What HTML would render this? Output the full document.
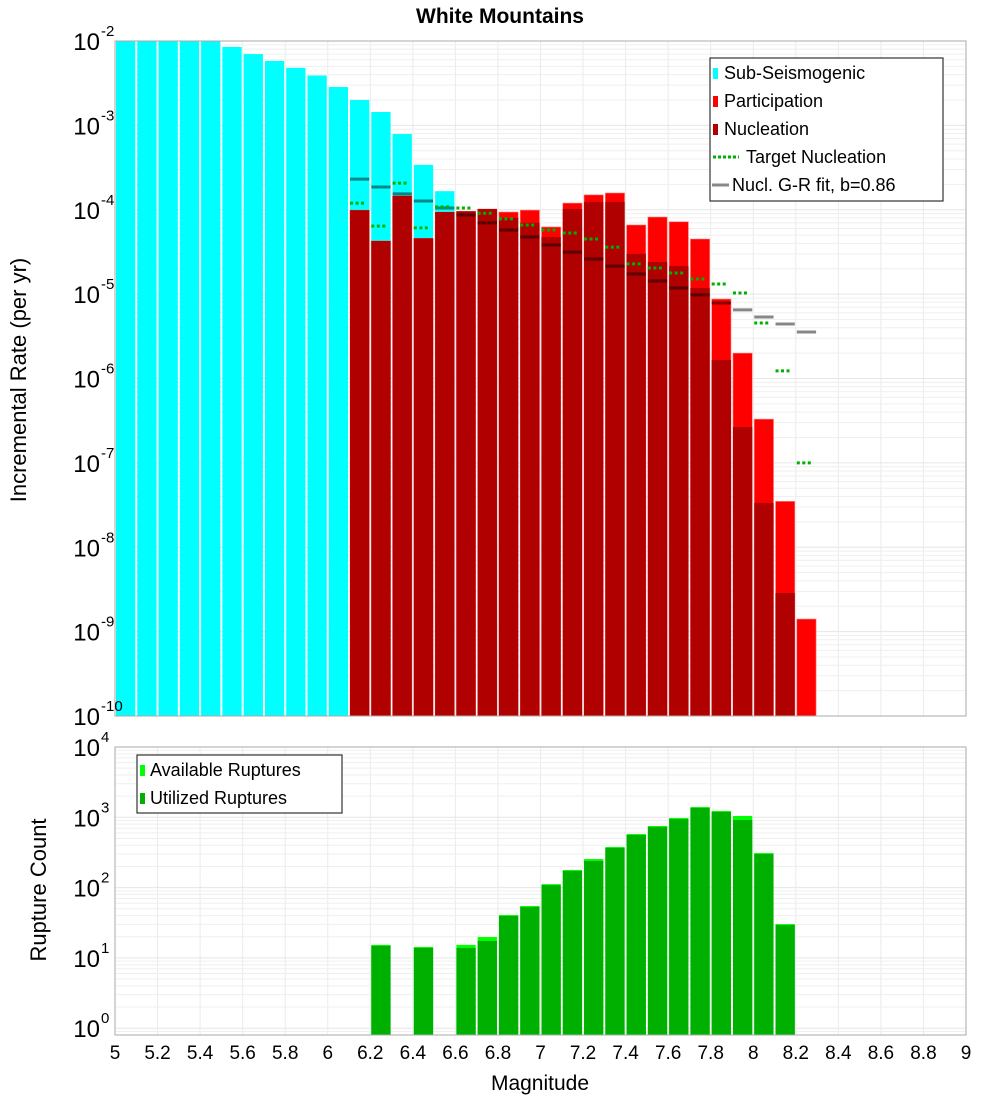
<!DOCTYPE html>
<html><head><meta charset="utf-8"><style>
body{margin:0;background:#fff;}
svg{display:block;font-family:"Liberation Sans","DejaVu Sans",sans-serif;}
</style></head><body>
<svg id="c" width="1000" height="1100" xmlns="http://www.w3.org/2000/svg"></svg>
<script>
// ---- data ----
const binStarts = [5.0,5.1,5.2,5.3,5.4,5.5,5.6,5.7,5.8,5.9,6.0,6.1,6.2,6.3,6.4,6.5,6.6,6.7,6.8,6.9,7.0,7.1,7.2,7.3,7.4,7.5,7.6,7.7,7.8,7.9,8.0,8.1,8.2];
const subSeis = [0.012,0.012,0.012,0.012,0.012,8.5e-3,7.0e-3,5.8e-3,4.8e-3,3.9e-3,2.85e-3,2.0e-3,1.44e-3,7.9e-4,3.4e-4,1.66e-4,0,0,0,0,0,0,0,0,0,0,0,0,0,0,0,0,0];
const participation = [0,0,0,0,0,0,0,0,0,0,0,9.9e-5,4.27e-5,1.46e-4,4.6e-5,9.4e-5,9.6e-5,1.02e-4,9.4e-5,9.9e-5,6.25e-5,1.2e-4,1.5e-4,1.58e-4,6.6e-5,8.2e-5,7.2e-5,4.5e-5,8.75e-6,2.0e-6,3.3e-7,3.5e-8,1.41e-9];
const nucleation = [0,0,0,0,0,0,0,0,0,0,0,9.9e-5,4.27e-5,1.46e-4,4.6e-5,9.4e-5,9.6e-5,1.02e-4,8.0e-5,7.0e-5,4.75e-5,1.02e-4,1.24e-4,1.24e-4,3.0e-5,2.4e-5,2.15e-5,1.18e-5,1.66e-6,2.66e-7,3.35e-8,2.87e-9,0];
const targetMags = [6.1,6.2,6.3,6.4,6.5,6.6,6.7,6.8,6.9,7.0,7.1,7.2,7.3,7.4,7.5,7.6,7.7,7.8,7.9,8.0,8.1,8.2];
const targetNucl = [1.2e-4,6.4e-5,2.07e-4,6.1e-5,1.08e-4,1.05e-4,9.1e-5,7.8e-5,6.6e-5,5.75e-5,5.3e-5,4.5e-5,3.6e-5,2.28e-5,2.04e-5,1.78e-5,1.51e-5,1.32e-5,1.03e-5,4.55e-6,1.23e-6,1.0e-7];
const grFit = [2.31e-4,1.86e-4,1.54e-4,1.27e-4,1.05e-4,8.7e-5,7.0e-5,5.75e-5,4.75e-5,3.82e-5,3.15e-5,2.61e-5,2.15e-5,1.73e-5,1.43e-5,1.18e-5,9.8e-6,7.85e-6,6.5e-6,5.35e-6,4.43e-6,3.56e-6];
const rupMags = [6.2,6.3,6.4,6.5,6.6,6.7,6.8,6.9,7.0,7.1,7.2,7.3,7.4,7.5,7.6,7.7,7.8,7.9,8.0,8.1];
const availRups = [15.3,0,14.3,0,15.3,19.8,40.7,54.7,112,178,255,378,578,752,977,1400,1230,1045,310,30.3];
const usedRups = [15.3,0,14.3,0,14.3,18.0,40.7,54.7,112,178,247,378,578,752,977,1400,1230,946,310,30.3];
const xTicks = [5,5.2,5.4,5.6,5.8,6,6.2,6.4,6.6,6.8,7,7.2,7.4,7.6,7.8,8,8.2,8.4,8.6,8.8,9];
const topExps = [-2,-3,-4,-5,-6,-7,-8,-9,-10];
const botExps = [4,3,2,1,0];

// ---- geometry ----
const NS="http://www.w3.org/2000/svg";
const svg=document.getElementById('c');
const X0=115,X1=966;
const T={top:41,bot:716,lmax:-2,lmin:-10};
const B={top:747,bot:1035,lmax:4,lmin:4-(1035-747)/70.3};
const xs=m=>X0+(m-5)*(X1-X0)/4;
const yT=v=>T.top+(T.lmax-Math.log10(v))*(T.bot-T.top)/(T.lmax-T.lmin);
const yB=v=>B.top+(B.lmax-Math.log10(v))*(B.bot-B.top)/(B.lmax-B.lmin);
function el(tag,attrs,parent){const e=document.createElementNS(NS,tag);for(const k in attrs)e.setAttribute(k,attrs[k]);(parent||svg).appendChild(e);return e;}

// clip paths
const defs=el('defs',{});
const cpT=el('clipPath',{id:'cT'},defs);el('rect',{x:X0,y:T.top,width:X1-X0,height:T.bot-T.top},cpT);
const cpB=el('clipPath',{id:'cB'},defs);el('rect',{x:X0,y:B.top,width:X1-X0,height:B.bot-B.top},cpB);

function grid(P,yf,name){
  const g=el('g',{'clip-path':'url(#'+(P===T?'cT':'cB')+')'});
  
  
  for(let m=5;m<=9.001;m+=0.2){el('line',{x1:xs(m),x2:xs(m),y1:P.top,y2:P.bot,stroke:'#ebebeb','stroke-width':1},g);}
  for(let e=Math.floor(P.lmin);e<=P.lmax;e++){for(let k=1;k<10;k++){const v=k*Math.pow(10,e);const y=yf(v);if(y<P.top||y>P.bot)continue;el('line',{x1:X0,x2:X1,y1:y,y2:y,stroke:k===1?'#e6e6e6':'#efefef','stroke-width':1},g);}}
}
grid(T,yT,'top-grid');grid(B,yB,'bottom-grid');

const bw=(X1-X0)/40;
// top bars
const gT=el('g',{'clip-path':'url(#cT)'});


function bars(vals,color,name,stroke){
  vals.forEach((v,i)=>{if(!v)return;const x=xs(binStarts[i]);const y=yT(v);
    const r=el('rect',{x:x+1,y:y,width:bw-2,height:T.bot-y,fill:color,stroke:stroke||'none','stroke-width':0.6},gT);
    
    });
}
bars(subSeis,'#00ffff','sub-seismogenic');
bars(participation,'#ff0000','participation','#ff8080');
bars(nucleation,'#b00000','nucleation');
grFit.forEach((v,i)=>{const x=xs(targetMags[i]);const y=yT(v);
  const l=el('line',{x1:x+1,x2:x+bw-1,y1:y,y2:y,stroke:'rgba(0,0,0,0.47)','stroke-width':3},gT);
  
  });
targetNucl.forEach((v,i)=>{const x=xs(targetMags[i]);const y=yT(v);
  const l=el('line',{x1:x+1,x2:x+16,y1:y,y2:y,stroke:'#00b000','stroke-width':3,'stroke-dasharray':'3,2.5'},gT);
  
  });

// bottom bars
const gB=el('g',{'clip-path':'url(#cB)'});


rupMags.forEach((m,i)=>{const x=xs(m);
  if(availRups[i]){const y=yB(availRups[i]);const r=el('rect',{x:x+1,y:y,width:bw-2,height:B.bot-y,fill:'#00ff00'},gB);
    
    }
  if(usedRups[i]){const y=yB(usedRups[i]);const r=el('rect',{x:x+1,y:y+1,width:bw-2,height:B.bot-y-1,fill:'#00b000'},gB);
    
    }
});

// frames
[T,B].forEach((P,i)=>{const r=el('rect',{x:X0,y:P.top,width:X1-X0,height:P.bot-P.top,fill:'none',stroke:'#aaaaaa','stroke-width':1});
  
  });

// y tick labels
function ylab(exp,y,name){const t=el('text',{x:100,y:y+9,'font-size':24,'text-anchor':'end',fill:'#000'});t.textContent='10';
  
  
  const s=el('text',{x:101,y:y-5,'font-size':15,fill:'#000'});s.textContent=String(exp);
  
  }
topExps.forEach(e=>ylab(e,yT(Math.pow(10,e)),'top-y-tick-label'));
botExps.forEach(e=>ylab(e,yB(Math.pow(10,e)),'bottom-y-tick-label'));
// x ticks
xTicks.forEach(m=>{const t=el('text',{x:xs(m),y:1059,'font-size':19,'text-anchor':'middle',fill:'#000'});t.textContent=String(m);
  
  });

// titles
let t=el('text',{x:500,y:23,'font-size':21,'font-weight':'bold','text-anchor':'middle'});t.textContent='White Mountains';

t=el('text',{x:540,y:1090,'font-size':21,'text-anchor':'middle'});t.textContent='Magnitude';

t=el('text',{x:0,y:0,'font-size':22,'text-anchor':'middle',transform:'translate(26,380) rotate(-90)'});t.textContent='Incremental Rate (per yr)';

t=el('text',{x:0,y:0,'font-size':22,'text-anchor':'middle',transform:'translate(46,890) rotate(-90)'});t.textContent='Rupture Count';


// legends
function box(x,y,w,h,name){const r=el('rect',{x:x,y:y,width:w,height:h,fill:'#fff',stroke:'#333','stroke-width':1.2});
  }
function ltext(x,y,s,name){const t=el('text',{x:x,y:y+6,'font-size':18,fill:'#000'});t.textContent=s;
  }
function lsq(x,y,c){const r=el('rect',{x:x,y:y-5,width:5,height:11,fill:c});
  }
box(710,58,233,143,'top-legend');
lsq(713,73,'#00ffff');ltext(724,73,'Sub-Seismogenic','legend-entry-sub-seismogenic');
lsq(713,101,'#ff0000');ltext(724,101,'Participation','legend-entry-participation');
lsq(713,129,'#b00000');ltext(724,129,'Nucleation','legend-entry-nucleation');
let l=el('line',{x1:713,x2:739,y1:157,y2:157,stroke:'#00b000','stroke-width':3,'stroke-dasharray':'3,2'});

ltext(746,157,'Target Nucleation','legend-entry-target-nucleation');
l=el('line',{x1:712,x2:729,y1:185,y2:185,stroke:'#888','stroke-width':3});

ltext(732,185,'Nucl. G-R fit, b=0.86','legend-entry-gr-fit');
box(137,755,205,58,'bottom-legend');
lsq(140,770,'#00ff00');ltext(150,770,'Available Ruptures','legend-entry-available');
lsq(140,798,'#00b000');ltext(150,798,'Utilized Ruptures','legend-entry-utilized');
</script>
</body></html>
